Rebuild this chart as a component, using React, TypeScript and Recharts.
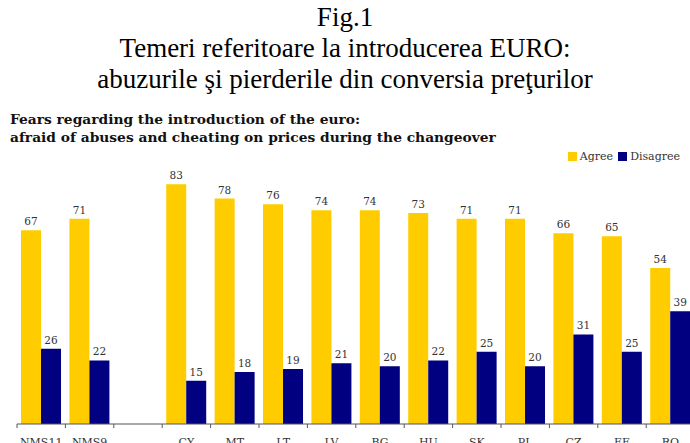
import React from 'react';
import { BarChart, Bar, XAxis, YAxis, LabelList } from 'recharts';

const categories = ['NMS11', 'NMS9', '', 'CY', 'MT', 'LT', 'LV', 'BG', 'HU', 'SK', 'PL', 'CZ', 'EE', 'RO'];
const agreeValues = [67, 71, null, 83, 78, 76, 74, 74, 73, 71, 71, 66, 65, 54];
const disagreeValues = [26, 22, null, 15, 18, 19, 21, 20, 22, 25, 20, 31, 25, 39];

const data = categories.map((name, i) => ({
  name,
  agree: agreeValues[i],
  disagree: disagreeValues[i],
}));

const serif = '"DejaVu Serif", serif';

function CategoryTick(props: any) {
  const { x, y, payload } = props;
  const half = payload && payload.offset ? payload.offset : 24.2;
  return (
    <g>
      <line x1={x - half} x2={x - half} y1={y - 8} y2={y - 4} stroke="#555" />
      <text x={x} y={y + 14} textAnchor="middle" fontSize={11} fill="#333" fontFamily={serif}>
        {payload.value}
      </text>
    </g>
  );
}

function LegendBox() {
  const item = (color: string, label: string) => (
    <span style={{ display: 'inline-flex', alignItems: 'center', marginLeft: 5 }}>
      <span style={{ width: 9, height: 9, background: color, display: 'inline-block', marginRight: 3 }} />
      <span>{label}</span>
    </span>
  );
  return (
    <div style={{ fontFamily: serif, fontSize: 11, color: '#333', whiteSpace: 'nowrap' }}>
      {item('#FFCC00', 'Agree')}
      {item('#000080', 'Disagree')}
    </div>
  );
}

export default function App() {
  return (
    <div style={{ position: 'absolute', left: 0, top: 0, width: 690, height: 443, overflow: 'hidden', background: 'white' }}>
      <div
        style={{
          position: 'absolute',
          top: 2,
          left: 0,
          width: 690,
          textAlign: 'center',
          fontFamily: '"Liberation Serif", serif',
          fontSize: 27,
          lineHeight: '31px',
          color: '#000',
        }}
      >
        <div>Fig.1</div>
        <div>Temeri referitoare la introducerea EURO:</div>
        <div>abuzurile şi pierderile din conversia preţurilor</div>
      </div>
      <div
        style={{
          position: 'absolute',
          top: 110,
          left: 10,
          fontFamily: serif,
          fontWeight: 'bold',
          fontSize: 13.8,
          lineHeight: '18px',
          color: '#111',
          whiteSpace: 'nowrap',
        }}
      >
        <div>Fears regarding the introduction of the euro:</div>
        <div>afraid of abuses and cheating on prices during the changeover</div>
      </div>
      <div style={{ position: 'absolute', left: 0, top: 0 }}>
        <BarChart
          width={700}
          height={470}
          data={data}
          margin={{ top: 135, right: 5.4, bottom: 16, left: 17 }}
          barCategoryGap="8.3%"
          barGap={0}
        >
          <XAxis
            dataKey="name"
            height={30}
            axisLine={{ stroke: '#555' }}
            tickLine={false}
            interval={0}
            tick={<CategoryTick />}
          />
          <YAxis hide domain={[0, 100]} />
          <Bar dataKey="agree" name="Agree" fill="#FFCC00" isAnimationActive={false}>
            <LabelList dataKey="agree" position="top" offset={5} fontSize={10.5} fill="#333" fontFamily={serif} />
          </Bar>
          <Bar dataKey="disagree" name="Disagree" fill="#000080" isAnimationActive={false}>
            <LabelList dataKey="disagree" position="top" offset={5} fontSize={10.5} fill="#333" fontFamily={serif} />
          </Bar>
        </BarChart>
      </div>
      <div style={{ position: 'absolute', top: 150, right: 10 }}>
        <LegendBox />
      </div>
    </div>
  );
}
